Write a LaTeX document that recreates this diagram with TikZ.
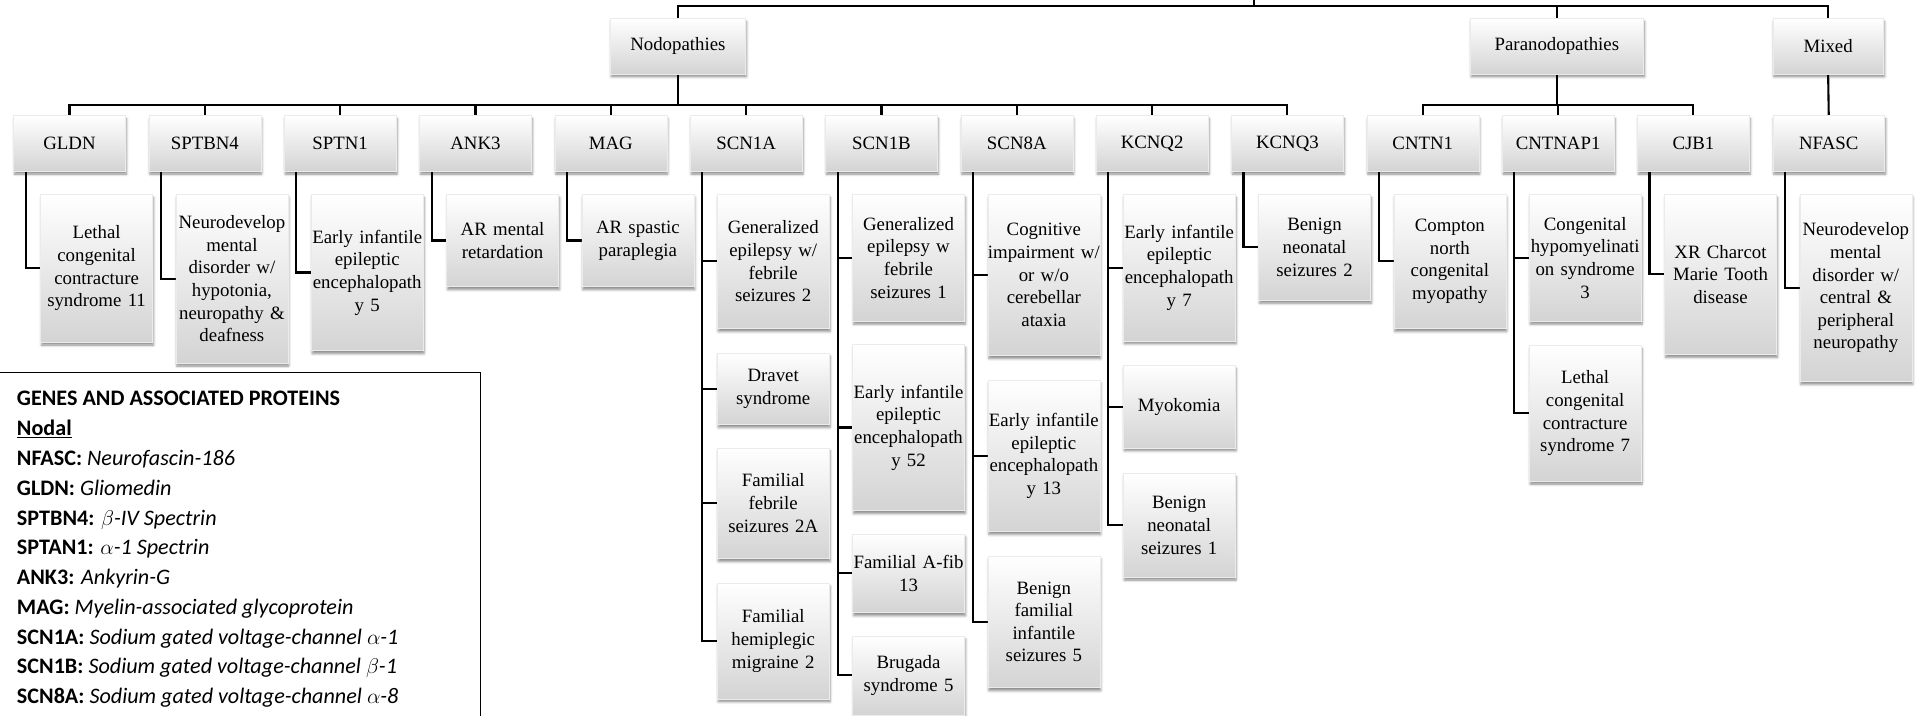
\documentclass[tikz,border=0pt]{standalone}
\usepackage{fontspec}
\setmainfont{Liberation Serif}
\newfontfamily\legendfont{Carlito}
\usetikzlibrary{shadows.blur}
\pgfdeclarelayer{background}
\pgfsetlayers{background,main}
\tikzset{
  box/.style={inner sep=0pt, align=center, text width=91pt,
    font=\fontsize{15.3}{18.4}\selectfont,
    top color=white, bottom color=black!17, draw=black!8, line width=0.4pt,
    blur shadow={shadow xshift=0.8pt, shadow yshift=-2.5pt, shadow blur radius=2pt, shadow opacity=45}},
  gene/.style={box, minimum height=45pt},
  conn/.style={line width=1.7pt, black},
  legendtxt/.style={anchor=north west, inner sep=0pt, align=left,
    font=\legendfont\fontsize{18}{24.2}\selectfont},
}
\begin{document}
\begin{tikzpicture}[x=1pt,y=-1pt]
\useasboundingbox (0,0) rectangle (1568,582);

% level 1
\node[box, text width=110pt, minimum height=45pt] (nod) at (551,37.5) {Nodopathies};
\node[box, text width=141pt, minimum height=45pt] (para) at (1265.5,37.5) {Paranodopathies};
\node[box, text width=90pt, minimum height=45pt] (mixed) at (1486,37.5) {Mixed};

% level 2
\node[gene] (g1) at (56.5,116.5) {GLDN};
\node[gene] (g2) at (166.5,116.5) {SPTBN4};
\node[gene] (g3) at (276.5,116.5) {SPTN1};
\node[gene] (g4) at (386.5,116.5) {ANK3};
\node[gene] (g5) at (496.5,116.5) {MAG};
\node[gene] (g6) at (606.5,116.5) {SCN1A};
\node[gene] (g7) at (716.5,116.5) {SCN1B};
\node[gene] (g8) at (826.5,116.5) {SCN8A};
\node[gene] (g9) at (936.5,116.5) {KCNQ2};
\node[gene] (g10) at (1046.5,116.5) {KCNQ3};
\node[gene] (g11) at (1156.5,116.5) {CNTN1};
\node[gene] (g12) at (1266.5,116.5) {CNTNAP1};
\node[gene] (g13) at (1376.5,116.5) {CJB1};
\node[gene] (g14) at (1486.5,116.5) {NFASC};

% level 3
\node[box, minimum height=120pt] (c1) at (78.5,218) {Lethal\\congenital\\contracture\\syndrome 11};
\node[box, minimum height=137pt] (c2) at (188.5,226.5) {Neurodevelop\\mental\\disorder w/\\hypotonia,\\neuropathy \&\\deafness};
\node[box, minimum height=127pt] (c3) at (298.5,221.5) {Early infantile\\epileptic\\encephalopath\\y 5};
\node[box, minimum height=75pt] (c4) at (408.5,195.5) {AR mental\\retardation};
\node[box, minimum height=75pt] (c5) at (518.5,195.5) {AR spastic\\paraplegia};

\node[box, minimum height=109pt] (c6a) at (628.5,212.5) {Generalized\\epilepsy w/\\febrile\\seizures 2};
\node[box, minimum height=58pt] (c6b) at (628.5,316) {Dravet\\syndrome};
\node[box, minimum height=90pt] (c6c) at (628.5,409) {Familial\\febrile\\seizures 2A};
\node[box, minimum height=94pt] (c6d) at (628.5,521) {Familial\\hemiplegic\\migraine 2};

\node[box, minimum height=103pt] (c7a) at (738.5,209.5) {Generalized\\epilepsy w\\febrile\\seizures 1};
\node[box, minimum height=135pt] (c7b) at (738.5,347.5) {Early infantile\\epileptic\\encephalopath\\y 52};
\node[box, minimum height=64pt] (c7c) at (738.5,466) {Familial A-fib\\13};
\node[box, minimum height=64pt] (c7d) at (738.5,549) {Brugada\\syndrome 5};

\node[box, minimum height=131pt] (c8a) at (848.5,223.5) {Cognitive\\impairment w/\\or w/o\\cerebellar\\ataxia};
\node[box, minimum height=123pt] (c8b) at (848.5,370.5) {Early infantile\\epileptic\\encephalopath\\y 13};
\node[box, minimum height=107pt] (c8c) at (848.5,505.5) {Benign\\familial\\infantile\\seizures 5};

\node[box, minimum height=119pt] (c9a) at (958.5,217.5) {Early infantile\\epileptic\\encephalopath\\y 7};
\node[box, minimum height=67pt] (c9b) at (958.5,330.5) {Myokomia};
\node[box, minimum height=84pt] (c9c) at (958.5,427) {Benign\\neonatal\\seizures 1};

\node[box, minimum height=86pt] (c10) at (1068.5,201) {Benign\\neonatal\\seizures 2};
\node[box, minimum height=109pt] (c11) at (1178.5,212.5) {Compton\\north\\congenital\\myopathy};
\node[box, minimum height=103pt] (c12a) at (1288.5,209.5) {Congenital\\hypomyelinati\\on syndrome\\3};
\node[box, minimum height=110pt] (c12b) at (1288.5,336) {Lethal\\congenital\\contracture\\syndrome 7};
\node[box, minimum height=130pt] (c13) at (1398.5,223) {XR Charcot\\Marie Tooth\\disease};
\node[box, minimum height=152pt] (c14) at (1508.5,234) {Neurodevelop\\mental\\disorder w/\\central \&\\peripheral\\neuropathy};

% connectors
\begin{pgfonlayer}{background}
\coordinate (root) at (1019.5,-3);
\coordinate (topj) at (1019.5,5);
\coordinate (nodbus) at (551,85);
\coordinate (parabus) at (1265.5,85);
\draw[conn] (root) -- (topj);
\draw[conn] (nod.north) |- (topj) -| (mixed.north);
\draw[conn] (para.north) -- (para.north |- topj);
\draw[conn] (nod.south) -- (nodbus);
\draw[conn] (g1.north) -- (g1.north |- nodbus) -- (g10.north |- nodbus) -- (g10.north);
\foreach \g in {g2,g3,g4,g5,g6,g7,g8,g9}{
  \draw[conn] (\g.north) -- (\g.north |- nodbus);
}
\draw[conn] (para.south) -- (parabus);
\draw[conn] (g11.north) -- (g11.north |- parabus) -- (g13.north |- parabus) -- (g13.north);
\draw[conn] (g12.north) -- (g12.north |- parabus);
\draw[conn] (mixed.south) -- (g14.north);

\draw[conn] ([xshift=10pt]g1.south west) |- (c1.west);
\draw[conn] ([xshift=10pt]g2.south west) |- (c2.west);
\draw[conn] ([xshift=10pt]g3.south west) |- (c3.west);
\draw[conn] ([xshift=10pt]g4.south west) |- (c4.west);
\draw[conn] ([xshift=10pt]g5.south west) |- (c5.west);
\foreach \c in {c6a,c6b,c6c,c6d}{\draw[conn] ([xshift=10pt]g6.south west) |- (\c.west);}
\foreach \c in {c7a,c7b,c7c,c7d}{\draw[conn] ([xshift=10pt]g7.south west) |- (\c.west);}
\foreach \c in {c8a,c8b,c8c}{\draw[conn] ([xshift=10pt]g8.south west) |- (\c.west);}
\foreach \c in {c9a,c9b,c9c}{\draw[conn] ([xshift=10pt]g9.south west) |- (\c.west);}
\draw[conn] ([xshift=10pt]g10.south west) |- (c10.west);
\draw[conn] ([xshift=10pt]g11.south west) |- (c11.west);
\foreach \c in {c12a,c12b}{\draw[conn] ([xshift=10pt]g12.south west) |- (\c.west);}
\draw[conn] ([xshift=10pt]g13.south west) |- (c13.west);
\draw[conn] ([xshift=10pt]g14.south west) |- (c14.west);
\end{pgfonlayer}

% legend
\node[draw, line width=1.2pt, fill=white, minimum width=392pt, minimum height=300pt, anchor=north west, inner sep=0pt] (legendbox) at (-2,302) {};
\node[legendtxt] (legendtext) at (13.6,318) {%
\textbf{GENES AND ASSOCIATED PROTEINS}\\
\underline{\textbf{Nodal}}\\
\textbf{NFASC:} \textit{Neurofascin-186}\\
\textbf{GLDN:} \textit{Gliomedin}\\
\textbf{SPTBN4:} \textit{$\beta$-IV Spectrin}\\
\textbf{SPTAN1:} \textit{$\alpha$-1 Spectrin}\\
\textbf{ANK3:} \textit{Ankyrin-G}\\
\textbf{MAG:} \textit{Myelin-associated glycoprotein}\\
\textbf{SCN1A:} \textit{Sodium gated voltage-channel $\alpha$-1}\\
\textbf{SCN1B:} \textit{Sodium gated voltage-channel $\beta$-1}\\
\textbf{SCN8A:} \textit{Sodium gated voltage-channel $\alpha$-8}};
\end{tikzpicture}
\end{document}
